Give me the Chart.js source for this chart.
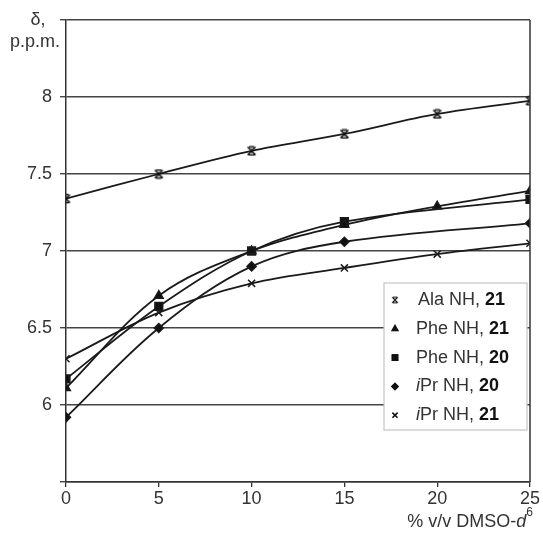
<!DOCTYPE html>
<html lang="en">

<head>
    <meta charset="UTF-8">
    <title>Chemical shift vs DMSO</title>
    <script src="https://cdn.jsdelivr.net/npm/chart.js"></script>
    <style>
        body { margin: 0; background: #fff; }
        #wrap { width: 543px; height: 544px; }
    </style>
</head>

<body>
    <div id="wrap"><canvas id="myChart" width="543" height="544"></canvas></div>

    <script>
        // data
        const dmso = [0, 5, 10, 15, 20, 25];
        const alaNH21 = [7.34, 7.50, 7.65, 7.76, 7.89, 7.975];
        const pheNH21 = [6.11, 6.71, 7.00, 7.17, 7.29, 7.39];
        const pheNH20 = [6.17, 6.64, 7.00, 7.19, null, 7.335];
        const iprNH20 = [5.92, 6.50, 6.90, 7.06, null, 7.18];
        const iprNH21 = [6.30, 6.60, 6.79, 6.89, 6.98, 7.05];
        const yTicks = [6, 6.5, 7, 7.5, 8];

        const labels = [
            { name: 'Ala NH, ', num: '21', italicI: false },
            { name: 'Phe NH, ', num: '21', italicI: false },
            { name: 'Phe NH, ', num: '20', italicI: false },
            { name: 'Pr NH, ', num: '20', italicI: true },
            { name: 'Pr NH, ', num: '21', italicI: true }
        ];

        const FONT = "'Liberation Sans', Arial, sans-serif";

        // star marker like the one excel uses (x with small bars)
        function starMarker() {
            const c = document.createElement('canvas');
            c.width = 11; c.height = 11;
            const g = c.getContext('2d');
            g.strokeStyle = '#111';
            g.lineWidth = 1.5;
            g.beginPath();
            g.moveTo(1.5, 1.5); g.lineTo(9.5, 9.5);
            g.moveTo(9.5, 1.5); g.lineTo(1.5, 9.5);
            g.moveTo(3, 1.5); g.lineTo(8, 1.5);
            g.moveTo(3, 9.5); g.lineTo(8, 9.5);
            g.moveTo(5.5, 3.5); g.lineTo(5.5, 7.5);
            g.stroke();
            return c;
        }
        const star = starMarker();

        const styles = [
            { pointStyle: star, radius: 5 },
            { pointStyle: 'triangle', radius: 5 },
            { pointStyle: 'rect', radius: 5.5 },
            { pointStyle: 'rectRot', radius: 4.5 },
            { pointStyle: 'crossRot', radius: 5 }
        ];

        function pts(arr) {
            return dmso.map((x, i) => ({ x: x, y: arr[i] }));
        }

        const series = [alaNH21, pheNH21, pheNH20, iprNH20, iprNH21];

        const datasets = series.map((s, i) => ({
            label: labels[i].name + labels[i].num,
            data: pts(s),
            borderColor: '#1a1a1a',
            backgroundColor: '#111',
            borderWidth: 1.8,
            pointStyle: styles[i].pointStyle,
            pointRadius: styles[i].radius,
            pointBorderWidth: 1.5,
            tension: 0.35,
            spanGaps: true
        }));

        const extras = {
            id: 'extras',
            afterDraw(chart) {
                const ctx = chart.ctx;
                const a = chart.chartArea;
                ctx.save();
                // right border
                ctx.strokeStyle = '#333';
                ctx.lineWidth = 1.5;
                ctx.beginPath();
                ctx.moveTo(a.right, a.top);
                ctx.lineTo(a.right, a.bottom);
                ctx.stroke();

                // y title
                ctx.fillStyle = '#333';
                ctx.font = '18px ' + FONT;
                ctx.textAlign = 'center';
                ctx.textBaseline = 'middle';
                ctx.fillText('δ,', 38, 20);
                ctx.fillText('p.p.m.', 35, 42);

                // x title
                ctx.textAlign = 'left';
                const t1 = '% v/v DMSO-';
                ctx.font = '18px ' + FONT;
                const w1 = ctx.measureText(t1).width;
                ctx.font = 'italic 18px ' + FONT;
                const w2 = ctx.measureText('d').width;
                ctx.font = '12px ' + FONT;
                const w3 = ctx.measureText('6').width;
                let x = 533 - w1 - w2 - w3;
                const y = 522;
                ctx.font = '18px ' + FONT;
                ctx.fillText(t1, x, y);
                x += w1;
                ctx.font = 'italic 18px ' + FONT;
                ctx.fillText('d', x, y);
                x += w2;
                ctx.font = '12px ' + FONT;
                ctx.fillText('6', x, y - 9);

                // legend
                const bx = 384, by = 283, bw = 143, bh = 147;
                ctx.fillStyle = '#fff';
                ctx.fillRect(bx, by, bw, bh);
                ctx.strokeStyle = '#c4c4c4';
                ctx.lineWidth = 1.2;
                ctx.strokeRect(bx, by, bw, bh);
                labels.forEach((l, i) => {
                    const ry = 300 + i * 28.8;
                    const st = styles[i];
                    if (i === 0) {
                        ctx.drawImage(star, 395 - 4, ry - 4, 8, 8);
                    } else {
                        Chart.helpers.drawPoint(ctx, {
                            pointStyle: st.pointStyle,
                            radius: st.radius * 0.7,
                            rotation: 0,
                            borderWidth: 1.5
                        }, 395, ry);
                        ctx.fillStyle = '#111';
                        ctx.strokeStyle = '#111';
                        ctx.fill();
                        ctx.stroke();
                    }
                    let tx = i === 0 ? 418 : 416;
                    ctx.fillStyle = '#333';
                    ctx.textBaseline = 'middle';
                    ctx.textAlign = 'left';
                    if (l.italicI) {
                        ctx.font = 'italic 18px ' + FONT;
                        ctx.fillText('i', tx, ry);
                        tx += ctx.measureText('i').width;
                    }
                    ctx.font = '18px ' + FONT;
                    ctx.fillText(l.name, tx, ry);
                    tx += ctx.measureText(l.name).width;
                    ctx.font = 'bold 18px ' + FONT;
                    ctx.fillStyle = '#111';
                    ctx.fillText(l.num, tx, ry);
                });
                ctx.restore();
            }
        };

        const ctx = document.getElementById('myChart');
        const myChart = new Chart(ctx, {
            type: 'line',
            data: { datasets: datasets },
            plugins: [extras],
            options: {
                responsive: false,
                animation: false,
                events: [],
                layout: { padding: { top: 20, right: 13, left: 0, bottom: 0 } },
                plugins: {
                    legend: { display: false },
                    tooltip: { enabled: false }
                },
                scales: {
                    x: {
                        type: 'linear',
                        min: 0,
                        max: 25,
                        ticks: {
                            stepSize: 5,
                            color: '#333',
                            font: { family: FONT, size: 18 },
                            padding: 1,
                            maxRotation: 0
                        },
                        grid: {
                            drawOnChartArea: false,
                            drawTicks: true,
                            tickLength: 5,
                            color: '#333',
                            lineWidth: 1.3
                        },
                        border: { color: '#333', width: 1.5 },
                        afterFit(scale) { scale.height = 62; }
                    },
                    y: {
                        min: 5.5,
                        max: 8.5,
                        afterBuildTicks(scale) {
                            scale.ticks = [5.5].concat(yTicks, [8.5]).map(v => ({ value: v }));
                        },
                        ticks: {
                            color: '#333',
                            font: { family: FONT, size: 18 },
                            padding: 8,
                            callback: v => (yTicks.includes(v) ? String(v) : '')
                        },
                        grid: {
                            color: '#444',
                            lineWidth: 1.4,
                            tickLength: 6
                        },
                        border: { color: '#333', width: 1.5 },
                        afterFit(scale) { scale.width = 66; }
                    }
                }
            }
        });
    </script>
</body>

</html>
